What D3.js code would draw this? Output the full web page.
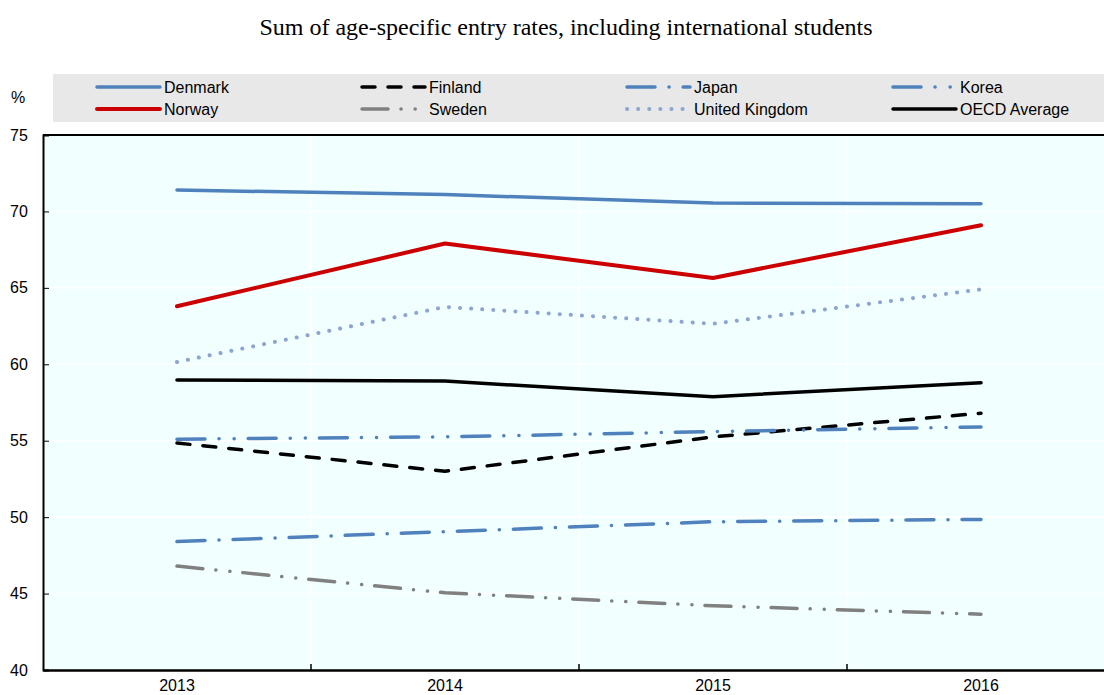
<!DOCTYPE html>
<html>
<head>
  <meta charset="UTF-8">
  <title>Sum of age-specific entry rates</title>
  <style>
  body { margin:0; background:#fff; }
  svg { display:block; }
  .axis text { font-family:"Liberation Sans",Arial,sans-serif; font-size:16px; fill:#000; }
  </style>
</head>
<body>
  <div id="chart"></div>
  <script src="https://d3js.org/d3.v7.min.js" charset="utf-8"></script>
  <script type="text/javascript">
    var years = ["2013", "2014", "2015", "2016"];
    var yTicks = [40, 45, 50, 55, 60, 65, 70, 75];

    var denmark = [71.4, 71.1, 70.55, 70.5];
    var finland = [54.85, 53.0, 55.25, 56.8];
    var japan   = [48.4, 49.05, 49.7, 49.85];
    var korea   = [55.1, 55.25, 55.6, 55.9];
    var norway  = [63.8, 67.9, 65.65, 69.1];
    var sweden  = [46.8, 45.05, 44.2, 43.65];
    var uk      = [60.15, 63.75, 62.65, 64.9];
    var oecd    = [58.98, 58.9, 57.88, 58.8];

    var series = [
      {name: "Denmark", values: denmark, color: "#4f81bd", width: 3.5, dash: null},
      {name: "Finland", values: finland, color: "#000000", width: 3.5, dash: "13,13"},
      {name: "Japan", values: japan, color: "#4f81bd", width: 3.5, dash: "28,14,0.1,14"},
      {name: "Korea", values: korea, color: "#4f81bd", width: 3.5, dash: "28,14,0.1,15,0.1,14"},
      {name: "Norway", values: norway, color: "#cc0000", width: 4, dash: null},
      {name: "Sweden", values: sweden, color: "#808080", width: 3.5, dash: "26,13,0.1,14,0.1,13"},
      {name: "United Kingdom", values: uk, color: "#8ea5d2", width: 4, dash: "0.1,11"},
      {name: "OECD Average", values: oecd, color: "#000000", width: 3.5, dash: null}
    ];

    var svg = d3.select("#chart")
      .append("svg")
      .attr("width", 1104)
      .attr("height", 695);

    var margin = {top: 135, left: 43, bottom: 25},
      width = 268 * years.length,
      height = 695 - margin.top - margin.bottom;

    // title
    svg.append("text")
      .attr("x", 566)
      .attr("y", 35)
      .attr("text-anchor", "middle")
      .style("font-family", "\"Liberation Serif\",\"Times New Roman\",serif")
      .style("font-size", "24px")
      .text("Sum of age-specific entry rates, including international students");

    // unit label
    svg.append("text")
      .attr("x", 11)
      .attr("y", 103)
      .style("font-family", "\"Liberation Sans\",Arial,sans-serif")
      .style("font-size", "16px")
      .text("%");

    // legend
    var legend = svg.append("g");
    legend.append("rect")
      .attr("x", 53).attr("y", 74)
      .attr("width", 1051).attr("height", 48)
      .attr("fill", "#e8e8e8");

    var colX = [97, 362, 627, 893];
    var rowY = [87, 109];
    series.forEach(function(s, i) {
      var cx = colX[i % 4], cy = rowY[Math.floor(i / 4)];
      legend.append("line")
        .attr("x1", cx).attr("x2", cx + 63)
        .attr("y1", cy).attr("y2", cy)
        .attr("stroke", s.color)
        .attr("stroke-width", s.width)
        .attr("stroke-linecap", "round")
        .attr("stroke-dasharray", s.dash);
      legend.append("text")
        .attr("x", cx + 67)
        .attr("y", cy + 6)
        .style("font-family", "\"Liberation Sans\",Arial,sans-serif")
        .style("font-size", "16px")
        .text(s.name);
    });

    var g = svg.append("g").attr("transform", "translate(" + margin.left + "," + margin.top + ")");

    var x = d3.scaleBand()
      .domain(years)
      .range([0, width]);

    var y = d3.scaleLinear()
      .domain([40, 75])
      .range([height, 0]);

    g.append("rect")
      .attr("width", width)
      .attr("height", height)
      .attr("fill", "#f2ffff");

    // white grid
    g.selectAll(".hgrid")
      .data(yTicks)
      .enter().append("line")
      .attr("x1", 0).attr("x2", width)
      .attr("y1", function(d) { return y(d); })
      .attr("y2", function(d) { return y(d); })
      .attr("stroke", "#fff")
      .attr("stroke-width", 1.5);

    g.selectAll(".vgrid")
      .data(years.slice(1))
      .enter().append("line")
      .attr("x1", function(d) { return x(d); })
      .attr("x2", function(d) { return x(d); })
      .attr("y1", 0).attr("y2", height)
      .attr("stroke", "#fff")
      .attr("stroke-width", 1.5);

    // lines
    var line = d3.line()
      .x(function(d, i) { return x(years[i]) + x.bandwidth() / 2; })
      .y(function(d) { return y(d); });

    series.forEach(function(s) {
      g.append("path")
        .datum(s.values)
        .attr("fill", "none")
        .attr("stroke", s.color)
        .attr("stroke-width", s.width)
        .attr("stroke-linejoin", "round")
        .attr("stroke-linecap", "round")
        .attr("stroke-dasharray", s.dash)
        .attr("d", line);
    });

    // top border
    g.append("line")
      .attr("x1", 0).attr("x2", width)
      .attr("y1", 0).attr("y2", 0)
      .attr("stroke", "#000")
      .attr("stroke-width", 2);

    // axes
    var yAxis = g.append("g")
      .attr("class", "axis")
      .call(d3.axisRight(y).tickValues(yTicks).tickSize(6).tickPadding(-34));
    yAxis.select(".domain").attr("stroke-width", 2);
    yAxis.selectAll("text").attr("text-anchor", "start").attr("x", -33);

    var xAxis = g.append("g")
      .attr("class", "axis")
      .attr("transform", "translate(0," + height + ")")
      .call(d3.axisBottom(x).tickSize(0).tickPadding(10));
    xAxis.select(".domain").attr("stroke-width", 2.5);

    g.selectAll(".xtick")
      .data(years.slice(1))
      .enter().append("line")
      .attr("x1", function(d) { return x(d); })
      .attr("x2", function(d) { return x(d); })
      .attr("y1", height).attr("y2", height - 6)
      .attr("stroke", "#000")
      .attr("stroke-width", 1.5);
  </script>
</body>
</html>
